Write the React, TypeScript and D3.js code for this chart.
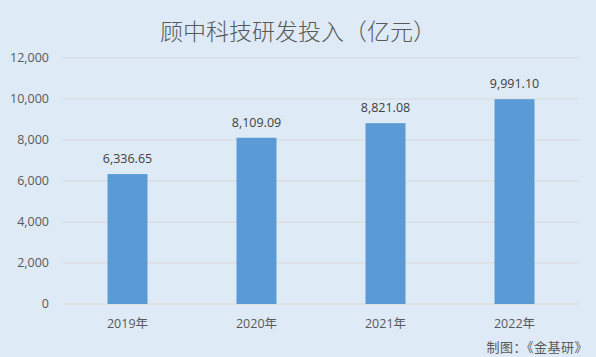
import React from "react";
import * as d3 from "d3";

const categories = ["2019年", "2020年", "2021年", "2022年"];
const values = [6336.65, 8109.09, 8821.08, 9991.1];
const yTicks = [0, 2000, 4000, 6000, 8000, 10000, 12000];
const title = "顾中科技研发投入（亿元）";
const source = "制图：《金基研》";

const W = 596;
const H = 357;
const M = { left: 63, right: 17, top: 58, bottom: 53 };

export default function App() {
  const x = d3
    .scaleBand<string>()
    .domain(categories)
    .range([M.left, W - M.right])
    .paddingInner(0)
    .paddingOuter(0);
  const y = d3.scaleLinear().domain([0, 12000]).range([H - M.bottom, M.top]);
  const barW = x.bandwidth() * 0.31;
  const fmtTick = d3.format(",");
  const fmtVal = d3.format(",.2f");
  const font = "'Open Sans', 'Noto Sans CJK SC', sans-serif";
  const cjk = "'Noto Sans CJK SC', sans-serif";

  return (
    <svg
      width={W}
      height={H}
      style={{ position: "absolute", left: 0, top: 0, display: "block" }}
    >
      <rect x={0} y={0} width={W} height={H} fill="#DEEAF6" />
      <text
        x={W / 2}
        y={40}
        textAnchor="middle"
        fontFamily={cjk}
        fontSize={23}
        fontWeight={300}
        fill="#595959"
      >
        {title}
      </text>
      {yTicks.map((t) => (
        <g key={t}>
          <line
            x1={M.left}
            x2={W - M.right}
            y1={y(t)}
            y2={y(t)}
            stroke="#D9D9D9"
            strokeWidth={1}
          />
          <text
            x={49}
            y={y(t)}
            dy="0.35em"
            textAnchor="end"
            fontFamily={font}
            fontSize={12.5}
            fill="#595959"
          >
            {fmtTick(t)}
          </text>
        </g>
      ))}
      {categories.map((c, i) => {
        const cx = (x(c) as number) + x.bandwidth() / 2;
        return (
          <g key={c}>
            <rect
              x={cx - barW / 2}
              y={y(values[i])}
              width={barW}
              height={y(0) - y(values[i])}
              fill="#5B9BD5"
            />
            <text
              x={cx}
              y={y(values[i]) - 11}
              textAnchor="middle"
              fontFamily={font}
              fontSize={12.5}
              fill="#404040"
            >
              {fmtVal(values[i])}
            </text>
            <text
              x={cx}
              y={328}
              textAnchor="middle"
              fontFamily={font}
              fontSize={12.5}
              fill="#595959"
            >
              {c}
            </text>
          </g>
        );
      })}
      <text
        x={588}
        y={352}
        textAnchor="end"
        fontFamily={cjk}
        fontSize={13}
        letterSpacing={0.5}
        fill="#595959"
      >
        {source}
      </text>
    </svg>
  );
}
